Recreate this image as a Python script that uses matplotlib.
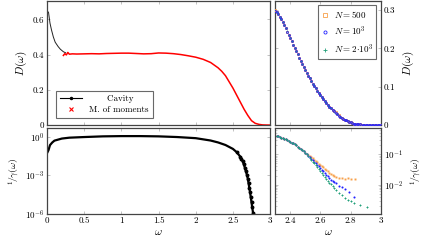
import numpy as np
import matplotlib
matplotlib.use('Agg')
import matplotlib.pyplot as plt
from matplotlib.ticker import FixedLocator, LogLocator, NullFormatter

plt.rcParams['font.family'] = 'serif'
plt.rcParams['font.serif'] = ['cmr10', 'DejaVu Serif']
plt.rcParams['mathtext.fontset'] = 'cm'
plt.rcParams['axes.unicode_minus'] = False
plt.rcParams['axes.formatter.use_mathtext'] = True

# cavity method, D(omega)
w_cav = [0.005, 0.02, 0.04, 0.06, 0.085, 0.11, 0.15, 0.18, 0.22, 0.25]
D_cav = [0.645, 0.64, 0.578, 0.54, 0.50, 0.47, 0.445, 0.43, 0.416, 0.41]

# method of moments, D(omega)
w_mom = [0.22, 0.24, 0.26, 0.28, 0.30, 0.34, 0.40, 0.50, 0.60, 0.70, 0.80, 0.90,
         1.00, 1.10, 1.20, 1.30, 1.40, 1.50, 1.60, 1.70, 1.80, 1.90, 2.00, 2.10,
         2.20, 2.30, 2.35, 2.40, 2.45, 2.50, 2.55, 2.60, 2.65, 2.70, 2.75, 2.80,
         2.85, 2.90, 2.95, 3.00]
D_mom = [0.395, 0.405, 0.398, 0.412, 0.402, 0.404, 0.403, 0.404, 0.405, 0.404,
         0.406, 0.407, 0.408, 0.408, 0.406, 0.404, 0.405, 0.409, 0.408, 0.405,
         0.400, 0.393, 0.385, 0.373, 0.355, 0.325, 0.305, 0.280, 0.245, 0.210,
         0.170, 0.130, 0.090, 0.055, 0.025, 0.010, 0.004, 0.001, 0.0003, 0.0]

# cavity method, 1/gamma(omega)
w_g = [0.005, 0.02, 0.04, 0.07, 0.10, 0.20, 0.30, 0.50, 0.75, 1.00, 1.25, 1.50,
       1.75, 2.00, 2.20, 2.30, 2.40, 2.50, 2.55, 2.60, 2.615, 2.63, 2.645, 2.66,
       2.675, 2.69, 2.70, 2.71, 2.72, 2.73, 2.74, 2.75, 2.76, 2.77, 2.78]
g_cav = [0.06, 0.09, 0.22, 0.35, 0.49, 0.71, 0.83, 0.93, 1.05, 1.1, 1.1, 1.05,
         0.93, 0.76, 0.5, 0.355, 0.224, 0.112, 0.063, 0.0275, 0.019, 0.0126,
         0.0075, 0.004, 0.002, 0.001, 5.5e-4, 2.5e-4, 1.1e-4, 5e-5, 2e-5, 8e-6,
         3.2e-6, 1.3e-6, 5e-7]

# finite N, zoom on band edge, D(omega)
w_N = np.linspace(2.30, 3.00, 71)
D_500 = [0.300, 0.295, 0.289, 0.283, 0.276, 0.268, 0.261, 0.253, 0.244, 0.236,
         0.227, 0.219, 0.210, 0.202, 0.193, 0.185, 0.176, 0.168, 0.160, 0.152,
         0.144, 0.136, 0.129, 0.122, 0.115, 0.108, 0.102, 0.096, 0.090, 0.084,
         0.078, 0.073, 0.067, 0.062, 0.057, 0.052, 0.048, 0.044, 0.040, 0.036,
         0.033, 0.029, 0.026, 0.022, 0.019, 0.016, 0.014, 0.012, 0.010, 0.008,
         0.007, 0.005, 0.004, 0.003, 0.003, 0.002, 0.002, 0.001, 0.001, 0.001,
         0.0007, 0.0005, 0.0004, 0.0003, 0.0002, 0.0002, 0.0001, 0.0001, 0.0,
         0.0, 0.0]
D_1000 = [0.299, 0.295, 0.289, 0.283, 0.276, 0.268, 0.261, 0.253, 0.244, 0.236,
          0.227, 0.219, 0.210, 0.202, 0.193, 0.185, 0.176, 0.168, 0.160, 0.152,
          0.144, 0.136, 0.129, 0.122, 0.115, 0.108, 0.102, 0.096, 0.090, 0.084,
          0.078, 0.073, 0.067, 0.062, 0.057, 0.052, 0.048, 0.044, 0.040, 0.036,
          0.032, 0.029, 0.025, 0.022, 0.019, 0.016, 0.014, 0.012, 0.010, 0.008,
          0.007, 0.005, 0.004, 0.003, 0.003, 0.002, 0.002, 0.001, 0.001, 0.001,
          0.0006, 0.0005, 0.0004, 0.0003, 0.0002, 0.0002, 0.0001, 0.0001, 0.0,
          0.0, 0.0]
D_2000 = [0.300, 0.295, 0.290, 0.283, 0.276, 0.269, 0.261, 0.253, 0.245, 0.236,
          0.227, 0.219, 0.210, 0.202, 0.193, 0.185, 0.176, 0.168, 0.160, 0.152,
          0.144, 0.136, 0.129, 0.122, 0.115, 0.108, 0.102, 0.096, 0.090, 0.084,
          0.078, 0.073, 0.067, 0.062, 0.057, 0.052, 0.048, 0.044, 0.039, 0.035,
          0.032, 0.028, 0.025, 0.022, 0.019, 0.016, 0.014, 0.012, 0.010, 0.008,
          0.007, 0.005, 0.004, 0.003, 0.002, 0.002, 0.001, 0.001, 0.0007, 0.0005,
          0.0004, 0.0003, 0.0002, 0.0002, 0.0001, 0.0001, 0.0, 0.0, 0.0, 0.0, 0.0]

# finite N, 1/gamma(omega)
w_head = [2.30, 2.31, 2.32, 2.33, 2.34, 2.35, 2.36, 2.37, 2.38, 2.39, 2.40, 2.41,
          2.42, 2.43, 2.44, 2.45, 2.46, 2.47, 2.48, 2.49, 2.50, 2.51, 2.52, 2.53,
          2.54, 2.55, 2.56, 2.57, 2.58, 2.59, 2.60, 2.61, 2.62, 2.63, 2.64, 2.65,
          2.66, 2.67, 2.68, 2.69, 2.70]
g_head = [0.398, 0.389, 0.380, 0.363, 0.347, 0.331, 0.316, 0.302, 0.288, 0.272,
          0.257, 0.240, 0.224, 0.209, 0.195, 0.178, 0.162, 0.148, 0.135, 0.123,
          0.112]
g_500 = g_head + [0.1035, 0.0955, 0.0871, 0.0794, 0.0724, 0.0661, 0.0596, 0.0537,
                  0.0490, 0.0447, 0.0407, 0.0372, 0.0335, 0.0302, 0.0275, 0.0251,
                  0.0229, 0.0209, 0.0193, 0.0178,
                  0.0168, 0.0162, 0.0158, 0.0160, 0.0157, 0.0155]
w_500 = w_head + [2.72, 2.74, 2.76, 2.78, 2.80, 2.83]
g_1000 = g_head + [0.100, 0.0891, 0.0794, 0.0708, 0.0631, 0.0562, 0.0501, 0.0447,
                   0.0398, 0.0355, 0.0313, 0.0275, 0.0243, 0.0214, 0.0188, 0.0166,
                   0.0148, 0.0132, 0.0120, 0.0110,
                   0.0093, 0.0082, 0.0072, 0.0056, 0.0040]
w_1000 = w_head + [2.72, 2.74, 2.76, 2.79, 2.82]
g_2000 = g_head + [0.0977, 0.0851, 0.0750, 0.0661, 0.0575, 0.0501, 0.0437, 0.0380,
                   0.0327, 0.0282, 0.0243, 0.0209, 0.0182, 0.0158, 0.0136, 0.0117,
                   0.0102, 0.0089, 0.0078, 0.0068,
                   0.0052, 0.0045, 0.0038, 0.0032, 0.0029, 0.0026, 0.0022, 0.0019]
w_2000 = w_head + [2.72, 2.74, 2.76, 2.78, 2.80, 2.82, 2.86, 2.91]

c_or = '#f7a04a'
c_bl = '#2222ff'
c_gr = '#22a07a'
fs = 6.5

fig = plt.figure(figsize=(4.29, 2.41), dpi=100)
ax1 = fig.add_axes([0.1096, 0.481, 0.520, 0.515])
ax2 = fig.add_axes([0.641, 0.481, 0.247, 0.515])
ax3 = fig.add_axes([0.1096, 0.112, 0.520, 0.357])
ax4 = fig.add_axes([0.641, 0.112, 0.247, 0.357])

for ax in [ax1, ax2, ax3, ax4]:
    for s in ax.spines.values():
        s.set_color('#444444')
        s.set_linewidth(0.9)
    ax.tick_params(direction='in', top=True, right=True, left=True, bottom=True,
                   length=2.5, width=0.5, color='#aaaaaa', labelsize=fs, pad=2)
    ax.tick_params(which='minor', direction='in', length=1.5, width=0.4,
                   color='#aaaaaa')

# top left
ax1.plot(w_cav, D_cav, color='#222222', lw=0.7)
ax1.plot(w_mom, D_mom, color='red', lw=1.1)
ax1.plot([], [], color='black', lw=0.8, marker='o', ms=1.5,
         label='      Cavity')
ax1.plot([], [], ls='none', color='red', marker='x', ms=2.5, mew=0.8,
         label='M. of moments')
ax1.set_xlim(0, 3)
ax1.set_ylim(0, 0.704)
ax1.set_xticks([0, 0.5, 1, 1.5, 2, 2.5, 3])
ax1.set_xticklabels([])
ax1.set_yticks([0, 0.2, 0.4, 0.6])
ax1.set_yticklabels(['0', '0.2', '0.4', '0.6'])
ax1.set_ylabel(r'$D(\omega)$', fontsize=8, labelpad=3)
leg = ax1.legend(loc='lower left', fontsize=fs, frameon=True, fancybox=False,
                 bbox_to_anchor=(0.02, 0.02), borderpad=0.4, handlelength=2.5,
                 labelspacing=0.3)
leg.get_frame().set_edgecolor('#444444')
leg.get_frame().set_linewidth(0.8)

# top right
ax2.plot(w_N, D_2000, ls='none', marker='+', ms=2.0, color=c_gr, mew=0.6,
         label=r'$N=2\!\cdot\!10^3$', zorder=2)
ax2.plot(w_N, D_500, ls='none', marker='s', ms=1.6, mfc='none', mec=c_or,
         mew=0.6, label=r'$N=500$', zorder=3)
ax2.plot(w_N, D_1000, ls='none', marker='o', ms=1.4, mfc='none', mec=c_bl,
         mew=0.6, label=r'$N=10^3$', zorder=4)
ax2.set_xlim(2.3, 3)
ax2.set_ylim(0, 0.324)
ax2.set_xticks([2.4, 2.6, 2.8, 3])
ax2.set_xticklabels([])
ax2.set_yticks([0, 0.1, 0.2, 0.3])
ax2.set_yticklabels(['0', '0.1', '0.2', '0.3'])
ax2.yaxis.tick_right()
ax2.tick_params(left=True, labelleft=False, labelright=True)
ax2.yaxis.set_label_position('right')
ax2.set_ylabel(r'$D(\omega)$', fontsize=8, labelpad=4)
h, l = ax2.get_legend_handles_labels()
leg2 = ax2.legend([h[1], h[2], h[0]], [l[1], l[2], l[0]], loc='upper right',
                  fontsize=fs, frameon=True, fancybox=False,
                  borderpad=0.4, handlelength=0.8, handletextpad=0.5,
                  labelspacing=0.5, markerscale=1.6)
leg2.get_frame().set_edgecolor('#444444')
leg2.get_frame().set_linewidth(0.8)

# bottom left
ax3.plot(w_g, g_cav, color='black', lw=1.6, marker='o', ms=1.8,
         markevery=slice(18, None))
ax3.set_yscale('log')
ax3.set_xlim(0, 3)
ax3.set_ylim(1e-6, 4.7)
ax3.set_xticks([0, 0.5, 1, 1.5, 2, 2.5, 3])
ax3.set_xticklabels(['0', '0.5', '1', '1.5', '2', '2.5', '3'])
ax3.yaxis.set_major_locator(FixedLocator([1e-6, 1e-3, 1e0]))
ax3.yaxis.set_minor_locator(FixedLocator([]))
ax3.set_ylabel(r'$^{1}\!/\gamma(\omega)$', fontsize=7, labelpad=2)
ax3.set_xlabel(r'$\omega$', fontsize=8, labelpad=2)

# bottom right
ax4.plot(w_500, g_500, ls='none', marker='s', ms=1.4, color=c_or, mew=0)
ax4.plot(w_1000, g_1000, ls='none', marker='o', ms=1.5, color=c_bl, mew=0)
ax4.plot(w_2000, g_2000, ls='none', marker='+', ms=1.8, color=c_gr, mew=0.7)
ax4.set_yscale('log')
ax4.set_xlim(2.3, 3)
ax4.set_ylim(1.1e-3, 0.72)
ax4.set_xticks([2.4, 2.6, 2.8, 3])
ax4.set_xticklabels(['2.4', '2.6', '2.8', '3'])
ax4.yaxis.set_major_locator(FixedLocator([1e-3, 1e-2, 1e-1]))
ax4.yaxis.set_minor_locator(LogLocator(base=10, subs=np.arange(2, 10)))
ax4.yaxis.set_minor_formatter(NullFormatter())
ax4.yaxis.tick_right()
ax4.tick_params(which='both', left=True, labelleft=False, labelright=True)
ax4.yaxis.set_label_position('right')
ax4.set_ylabel(r'$^{1}\!/\gamma(\omega)$', fontsize=7, labelpad=4)
ax4.set_xlabel(r'$\omega$', fontsize=8, labelpad=2)

fig.savefig('out.png', dpi=100)
